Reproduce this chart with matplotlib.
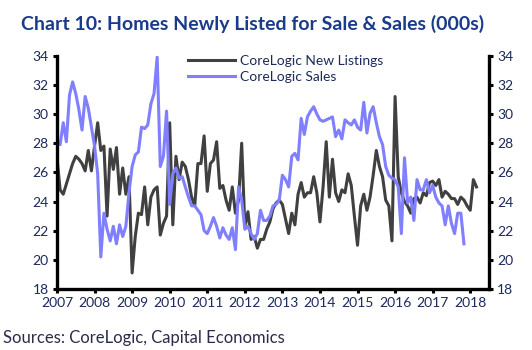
import numpy as np
import matplotlib.pyplot as plt

# monthly values, Jan 2007 onwards (000s)
listings = [27.0, 24.8, 24.5, 25.2, 25.9, 26.6, 27.1, 26.9, 26.6, 26.1, 27.5, 26.1,
            27.8, 29.4, 27.5, 27.8, 23.0, 27.6, 26.2, 27.7, 24.5, 26.3, 24.5, 25.7,
            19.1, 21.6, 23.2, 23.1, 25.0, 22.4, 24.3, 24.8, 25.0, 21.7, 22.5, 23.0,
            29.4, 22.4, 27.1, 25.5, 26.7, 26.4, 25.5, 24.3, 23.7, 26.6, 26.6, 28.5,
            24.7, 26.6, 26.85, 28.1, 24.9, 25.1, 24.1, 23.4, 25.0, 23.2, 24.1, 28.0,
            22.3, 23.3, 21.4, 21.6, 20.8, 21.4, 21.4, 22.1, 22.6, 23.5, 23.9, 24.1,
            23.8, 22.8, 21.8, 23.2, 22.4, 24.5, 25.3, 24.3, 24.6, 24.6, 25.7, 24.6,
            22.6, 25.0, 28.1, 24.3, 26.9, 24.6, 24.0, 24.8, 24.6, 25.9, 25.1, 23.0,
            21.0, 23.7, 24.5, 23.4, 24.3, 25.8, 27.5, 26.4, 25.7, 24.1, 23.7, 21.3,
            31.2, 25.7, 24.6, 24.0, 23.7, 23.2, 24.2, 24.3, 23.9, 24.6, 24.4, 25.3,
            25.4, 25.1, 25.5, 24.3, 24.7, 24.5, 24.2, 24.2, 23.8, 24.3, 24.1, 23.7,
            23.4, 25.5, 25.0]

sales = [28.2, 27.9, 29.4, 28.1, 31.3, 32.2, 31.4, 30.3, 28.9, 31.2, 30.4, 29.1,
         27.8, 25.9, 20.2, 23.2, 22.1, 21.3, 22.3, 21.1, 22.4, 21.6, 22.3, 24.6,
         26.4, 27.2, 27.4, 29.1, 29.0, 29.25, 30.7, 31.4, 33.9, 26.4, 27.1, 30.2,
         23.8, 25.9, 26.3, 25.6, 25.7, 25.0, 24.3, 23.7, 23.7, 23.4, 23.1, 22.0,
         21.8, 22.3, 22.9, 22.3, 21.5, 22.2, 21.7, 21.4, 22.2, 20.7, 25.0, 24.1,
         22.1, 22.3, 21.8, 21.4, 21.8, 23.4, 22.7, 22.7, 23.0, 23.7, 23.8, 24.1,
         25.8, 25.5, 25.0, 27.1, 27.3, 26.85, 29.7, 28.6, 29.8, 30.2, 30.5, 30.0,
         29.6, 29.5, 29.6, 29.7, 29.8, 28.45, 28.9, 28.3, 29.6, 29.4, 29.25, 29.6,
         29.1, 28.9, 30.8, 28.7, 30.05, 30.5, 29.4, 28.45, 27.9, 26.4, 25.8, 25.6,
         25.5, 25.0, 21.8, 27.0, 23.9, 24.3, 22.7, 25.5, 24.8, 24.8, 25.5, 24.6,
         25.1, 24.3, 23.9, 23.7, 22.4, 23.7, 22.5, 21.8, 23.2, 23.2, 21.1]

years = list(range(2007, 2019))
yticks = list(range(18, 35, 2))

x_l = 2007 + np.arange(len(listings)) / 12
x_s = 2007 + np.arange(len(sales)) / 12

navy = '#1c2a5c'
plt.rcParams['font.family'] = ['Lato', 'DejaVu Sans']

fig = plt.figure(figsize=(5.32, 3.5), dpi=100)
ax = fig.add_axes([0.1071, 0.1743, 0.8121, 0.6666])

ax.plot(x_l, listings, color='#404040', lw=2.2, label='CoreLogic New Listings')
ax.plot(x_s, sales, color='#7f7fff', lw=2.2, label='CoreLogic Sales')

ax.set_xlim(2007, 2018.5)
ax.set_ylim(18, 34)
ax.set_xticks(years)
ax.set_yticks(yticks)
ax.tick_params(axis='both', direction='out', length=3, width=2.2,
               labelsize=10, labelcolor=navy, pad=3)
ax.tick_params(axis='y', right=True, labelright=True)
for s in ['left', 'right', 'bottom']:
    ax.spines[s].set_linewidth(2.4)
ax.spines['top'].set_visible(False)

ax.legend(loc='upper left', bbox_to_anchor=(0.34, 0.862), bbox_transform=fig.transFigure,
          frameon=False, fontsize=10, handlelength=3.4, handletextpad=0.35,
          labelspacing=0.25, labelcolor=navy, borderpad=0)

fig.text(0.04, 0.915, 'Chart 10: Homes Newly Listed for Sale & Sales (000s)',
         fontsize=14, fontweight='bold', color='#1a3a8a')
fig.text(0.006, 0.02, 'Sources: CoreLogic, Capital Economics', fontsize=12, color='#2b2b4b')

fig.savefig('out.png', dpi=100)
